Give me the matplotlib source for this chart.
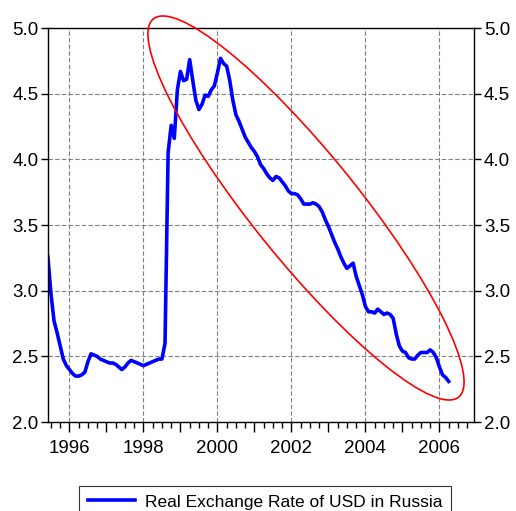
import matplotlib
matplotlib.use("Agg")
import matplotlib.pyplot as plt
import numpy as np
from matplotlib.patches import Ellipse
from matplotlib.ticker import MultipleLocator

plt.rcParams['font.family'] = ['Liberation Sans', 'DejaVu Sans']

# monthly, 1995M6 .. 2006M4
start_year = 1995 + 5 / 12
rate = [3.26, 2.98, 2.77, 2.68, 2.58, 2.48, 2.43,
        2.40, 2.37, 2.35, 2.35, 2.36, 2.38, 2.46, 2.52, 2.51, 2.50, 2.48, 2.47,
        2.46, 2.45, 2.45, 2.44, 2.42, 2.40, 2.42, 2.45, 2.47, 2.46, 2.45, 2.44,
        2.43, 2.44, 2.45, 2.46, 2.47, 2.48, 2.48, 2.60, 4.05, 4.26, 4.16, 4.53,
        4.67, 4.60, 4.61, 4.76, 4.60, 4.45, 4.38, 4.42, 4.49, 4.48, 4.53, 4.56,
        4.66, 4.77, 4.73, 4.71, 4.60, 4.45, 4.34, 4.29, 4.23, 4.17, 4.13, 4.09,
        4.06, 4.02, 3.96, 3.93, 3.89, 3.86, 3.84, 3.87, 3.86, 3.83, 3.80, 3.76,
        3.74, 3.74, 3.73, 3.70, 3.66, 3.66, 3.66, 3.67, 3.66, 3.64, 3.60, 3.54,
        3.49, 3.43, 3.37, 3.32, 3.26, 3.21, 3.17, 3.19, 3.21, 3.11, 3.04, 2.97,
        2.88, 2.84, 2.84, 2.83, 2.86, 2.84, 2.82, 2.83, 2.82, 2.79, 2.67, 2.58,
        2.54, 2.53, 2.49, 2.48, 2.48, 2.51, 2.53, 2.53, 2.53, 2.55, 2.53, 2.49,
        2.42, 2.36, 2.34, 2.31]
label = "Real Exchange Rate of USD in Russia"
xlabels = [1996, 1998, 2000, 2002, 2004, 2006]
yticks = [2.0, 2.5, 3.0, 3.5, 4.0, 4.5, 5.0]

t = start_year + np.arange(len(rate)) / 12

fig = plt.figure(figsize=(5.16, 5.11), dpi=100)
ax = fig.add_axes([0.093, 0.174, 0.826, 0.771])
ax.plot(t, rate, color="#0000ff", lw=2.6, label=label, solid_joinstyle="round")

ax.set_xlim(1995.42, 2006.94)
ax.set_ylim(2.0, 5.0)

# year ticks, labels every two years, quarterly minor ticks
years = np.arange(1996, 2007)
ax.set_xticks(years)
ax.set_xticklabels([str(y) if y in xlabels else "" for y in years])
ax.xaxis.set_minor_locator(MultipleLocator(0.25))
ax.set_yticks(yticks)
ax.set_yticklabels(["%.1f" % y for y in yticks])

ax.yaxis.grid(True, color="#808080", ls=(0, (4, 2)), lw=0.8)
for x in xlabels:
    ax.axvline(x, color="#808080", ls=(0, (4, 2)), lw=0.8, zorder=0.5)

ax.tick_params(axis="x", which="major", length=7, width=1, labelsize=13.5, pad=6)
ax.tick_params(axis="x", which="minor", length=4, width=1)
ax.tick_params(axis="y", which="major", length=5, width=1, labelsize=13.5,
               right=True, labelright=True, pad=2)
for s in ax.spines.values():
    s.set_linewidth(1)

# red ellipse highlighting the decline
ell = Ellipse((3.06, 5.11 - 2.08), 4.86, 1.06, angle=-51.1, fill=False,
              edgecolor="red", lw=1.2, transform=fig.dpi_scale_trans, clip_on=False)
fig.add_artist(ell)

leg = fig.legend(loc="upper center", bbox_to_anchor=(0.514, 1 - 477 / 511),
                 fontsize=12.5, frameon=True, fancybox=False, edgecolor="black",
                 handlelength=2.7, handletextpad=0.6, borderpad=0.5)
leg.get_frame().set_linewidth(0.8)

fig.savefig("out.png", dpi=100)
